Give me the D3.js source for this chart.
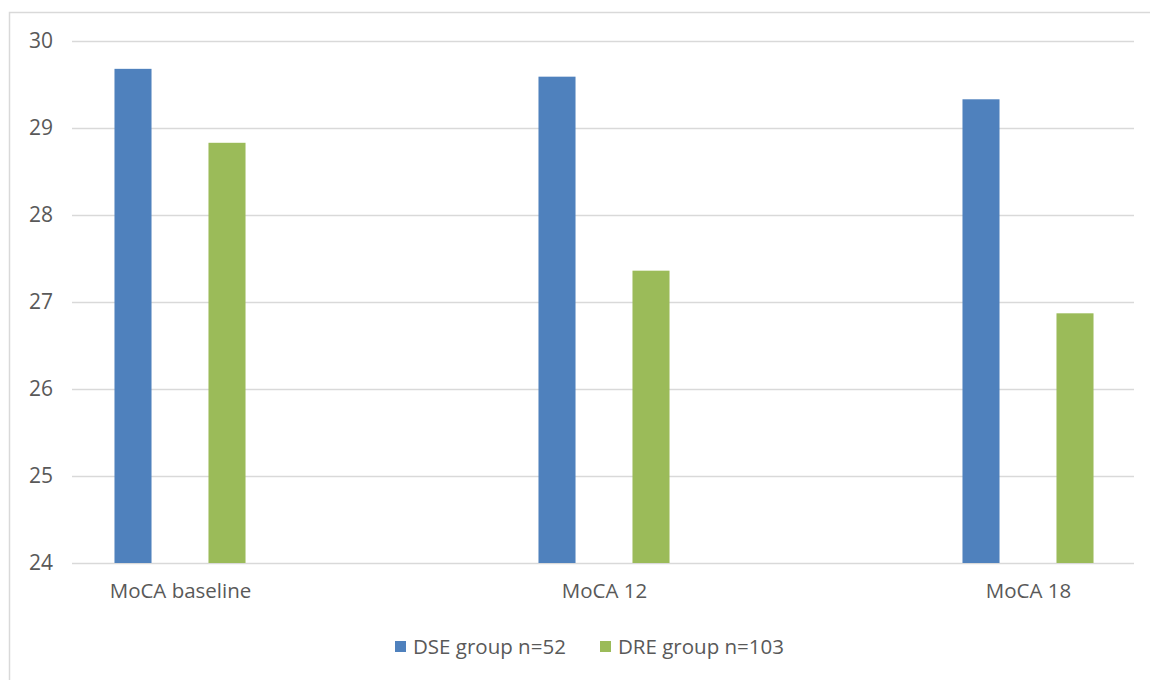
<!DOCTYPE html>
<html>
<head>
<meta charset="utf-8">
<script src="https://cdn.jsdelivr.net/npm/d3@7"></script>
<style>
  body { margin: 0; background: #fff; }
  text { font-family: "Open Sans", sans-serif; fill: #595959; }
</style>
</head>
<body>
<svg id="chart" width="1150" height="680"></svg>
<script>
// MoCA scores by visit, for each epilepsy group
const categories = ["MoCA baseline", "MoCA 12", "MoCA 18"];
const seriesNames = ["DSE group n=52", "DRE group n=103"];
const dseValues = [29.68, 29.59, 29.33];
const dreValues = [28.83, 27.36, 26.87];
const yTicks = [24, 25, 26, 27, 28, 29, 30];
const colors = ["#4f81bd", "#9bbb59"];

const seriesValues = [dseValues, dreValues];
const rows = categories.map((c, i) => ({
  category: c,
  values: seriesNames.map((s, j) => ({ series: s, value: seriesValues[j][i] }))
}));

const FONT = "'Open Sans', sans-serif";
const svg = d3.select("#chart");

// outer chart frame
svg.append("rect")
  .attr("x", 9.5).attr("y", 12.5)
  .attr("width", 1200).attr("height", 700)
  .attr("fill", "none").attr("stroke", "#d9d9d9").attr("stroke-width", 1.5);

const plotLeft = 72, plotRight = 1134;
const y = d3.scaleLinear().domain([24, 30]).range([563, 41]);
const x0 = d3.scalePoint().domain(categories).range([180, 1028]);
const x1 = d3.scaleBand().domain(seriesNames).range([-94, 94])
  .paddingInner(0.606).paddingOuter(0.303);

// gridlines
svg.append("g").selectAll("line").data(yTicks).join("line")
  .attr("x1", plotLeft).attr("x2", plotRight)
  .attr("y1", d => Math.round(y(d)) + 0.5).attr("y2", d => Math.round(y(d)) + 0.5)
  .attr("stroke", "#d9d9d9").attr("stroke-width", 1.3);

// y axis labels
const yAxis = d3.axisLeft(y).tickValues(yTicks).tickFormat(d3.format("d"))
  .tickSize(0).tickPadding(0);
const gy = svg.append("g").attr("transform", "translate(53,0)").call(yAxis);
gy.select(".domain").remove();
gy.selectAll("text").attr("font-size", 21).attr("fill", "#595959")
  .style("font-family", FONT);

// bars
const groups = svg.append("g").selectAll("g").data(rows).join("g")
  .attr("transform", d => `translate(${x0(d.category)},0)`);
groups.selectAll("rect").data(d => d.values).join("rect")
  .attr("x", d => x1(d.series))
  .attr("width", x1.bandwidth())
  .attr("y", d => y(d.value))
  .attr("height", d => y(24) - y(d.value))
  .attr("fill", (d, i) => colors[i]);

// x axis labels
const xAxis = d3.axisBottom(x0).tickSize(0).tickPadding(20);
const gx = svg.append("g").attr("transform", `translate(0,${y(24)})`).call(xAxis);
gx.select(".domain").remove();
gx.selectAll("text").attr("font-size", 20.5).attr("fill", "#595959")
  .style("font-family", FONT);

// legend
const legendX = [395, 600];
const legend = svg.append("g").selectAll("g").data(seriesNames).join("g")
  .attr("transform", (d, i) => `translate(${legendX[i]},641)`);
legend.append("rect").attr("width", 11).attr("height", 11)
  .attr("fill", (d, i) => colors[i]);
legend.append("text").attr("x", 18).attr("y", 6).attr("dy", "0.35em")
  .attr("font-size", 20.5).text(d => d);
</script>
</body>
</html>
